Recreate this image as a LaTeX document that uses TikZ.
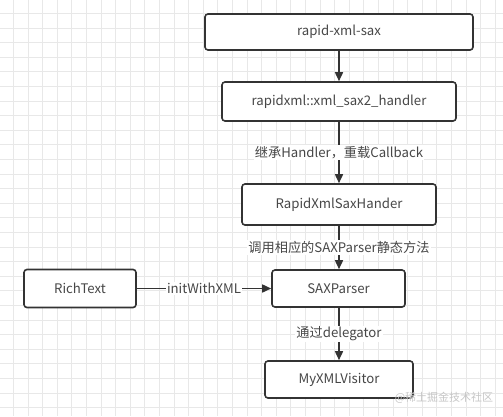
\documentclass[tikz,border=0pt]{standalone}
\usepackage{fontspec}
\setmainfont{Noto Sans CJK SC}
\usetikzlibrary{arrows.meta}
\definecolor{boxline}{HTML}{333333}
\definecolor{gridfine}{HTML}{E8E8E8}
\tikzset{
  box/.style={draw=boxline, line width=1.6pt, rounded corners=3pt, fill=white,
    font=\fontsize{13.2}{15}\selectfont, text=boxline!90},
  link/.style={draw=boxline, line width=1.6pt, -{Triangle[length=9pt,width=8pt]}},
  linklabel/.style={fill=white, inner sep=1pt, font=\fontsize{13.2}{15}\selectfont, text=boxline!90}
}
\begin{document}
\begin{tikzpicture}[x=1pt,y=-1pt]
   \useasboundingbox (0,0) rectangle (503,416);

   % background grid
   \foreach \i in {0,...,34} {
     \pgfmathsetmacro{\gx}{13.4+14.6*\i}
     \draw [gridfine, line width=0.8pt] (\gx,0) -- (\gx,416);
   }
   \foreach \i in {0,...,28} {
     \pgfmathsetmacro{\gy}{13.4+14.6*\i}
     \draw [gridfine, line width=0.8pt] (0,\gy) -- (503,\gy);
   }

   \node (RapidSax) at (339,32) [box, minimum width=268pt, minimum height=36pt] {rapid-xml-sax};
   \node (Sax2Handler) at (339,101.5) [box, minimum width=234pt, minimum height=39pt] {rapidxml::xml\_sax2\_handler};
   \node (XmlSaxHander) at (339,204.5) [box, minimum width=194pt, minimum height=41pt] {RapidXmlSaxHander};
   \node (SAXParser) at (338.5,288.5) [box, minimum width=133pt, minimum height=37pt] {SAXParser};
   \node (RichText) at (80,288.5) [box, minimum width=112pt, minimum height=38pt] {RichText};
   \node (Visitor) at (339,379.5) [box, minimum width=148pt, minimum height=37pt] {MyXMLVisitor};

   \draw [link] (RapidSax.south) -- (Sax2Handler.north);
   \draw [link] (Sax2Handler.south) -- node [linklabel] {继承Handler，重载Callback} (XmlSaxHander.north);
   \draw [link] (XmlSaxHander.south) -- node [linklabel] {调用相应的SAXParser静态方法} (SAXParser.north -| XmlSaxHander.south);
   \draw [link] (RichText.east) -- node [linklabel] {initWithXML} (SAXParser.west);
   \draw [link] (SAXParser.south -| Visitor.north) -- node [linklabel] {通过delegator} (Visitor.north);

   \node (Watermark) at (444,398) [text=gray!45, font=\fontsize{11}{12}\selectfont, inner sep=0pt] {@稀土掘金技术社区};

\end{tikzpicture}
\end{document}
